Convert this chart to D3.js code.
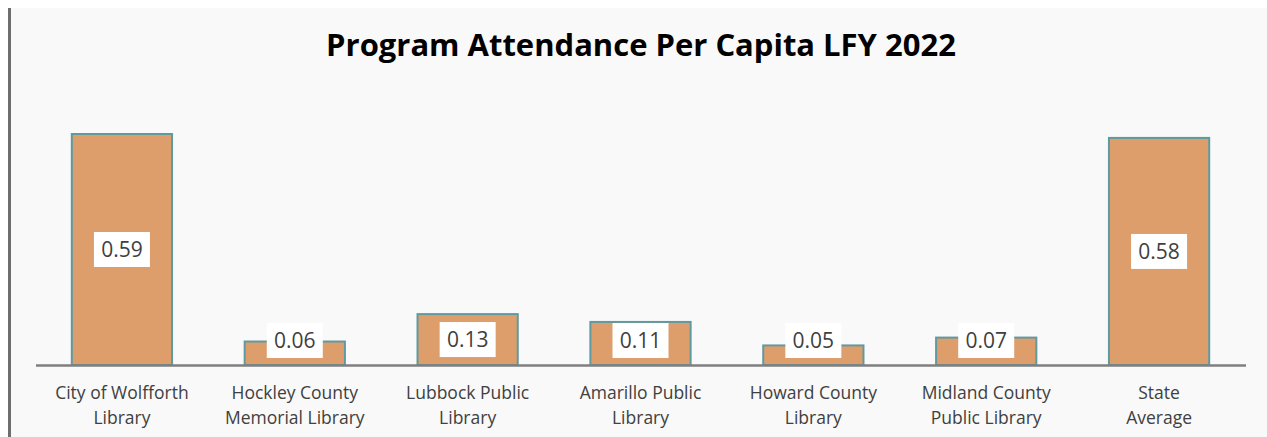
<!DOCTYPE html>
<html><head><meta charset="utf-8">
<script src="https://cdn.jsdelivr.net/npm/d3@7"></script>
<style>html,body{margin:0;padding:0;background:#fff;}svg{display:block;}</style>
</head><body>
<svg id="c" width="1267" height="437"></svg>
<script>
const categories = [
  ["City of Wolfforth", "Library"],
  ["Hockley County", "Memorial Library"],
  ["Lubbock Public", "Library"],
  ["Amarillo Public", "Library"],
  ["Howard County", "Library"],
  ["Midland County", "Public Library"],
  ["State", "Average"]
];
const values = [0.59, 0.06, 0.13, 0.11, 0.05, 0.07, 0.58];
const valueLabels = ["0.59", "0.06", "0.13", "0.11", "0.05", "0.07", "0.58"];
const title = "Program Attendance Per Capita LFY 2022";

const W = 1267, H = 437;
const svg = d3.select("#c");
const font = "'Open Sans', 'Liberation Sans', sans-serif";

svg.append("rect").attr("x", 10).attr("y", 8).attr("width", W - 10).attr("height", H - 8).attr("fill", "#f9f9f9");
svg.append("line").attr("x1", 9.5).attr("x2", 9.5).attr("y1", 8).attr("y2", H)
  .attr("stroke", "#6e6e6e").attr("stroke-width", 3);

const x = d3.scaleBand().domain(d3.range(categories.length)).range([35.5, 1245.5]).paddingInner(0.42).paddingOuter(0.21);
const y = d3.scaleLinear().domain([0, 0.59]).range([365, 134]);

// bars
svg.append("g").selectAll("rect").data(values).join("rect")
  .attr("x", (d, i) => x(i))
  .attr("y", d => y(d))
  .attr("width", x.bandwidth())
  .attr("height", d => y(0) - y(d))
  .attr("fill", "#dd9e6b")
  .attr("stroke", "#5f9aa0")
  .attr("stroke-width", 2);

// baseline axis
const axis = d3.axisBottom(x).tickSize(0).tickFormat("");
const ag = svg.append("g").attr("transform", `translate(0,${y(0)})`).call(axis);
ag.select(".domain").attr("stroke", "#7f7f7f").attr("stroke-width", 2.5);

// category labels
const lab = svg.append("g").selectAll("text").data(categories).join("text")
  .attr("x", (d, i) => x(i) + x.bandwidth() / 2)
  .attr("text-anchor", "middle")
  .attr("font-family", font).attr("font-size", 17.5).attr("fill", "#404040");
lab.each(function(d) {
  const t = d3.select(this);
  d.forEach((line, k) => t.append("tspan").attr("x", t.attr("x")).attr("y", 399 + k * 25).text(line));
});

// value labels
const vg = svg.append("g").selectAll("g").data(values).join("g")
  .attr("transform", (d, i) => {
    const cy = Math.min((y(d) + y(0)) / 2, 340.5);
    return `translate(${x(i) + x.bandwidth() / 2},${cy})`;
  });
vg.append("rect").attr("x", -28).attr("y", -17.5).attr("width", 56).attr("height", 35).attr("fill", "#ffffff");
vg.append("text").attr("text-anchor", "middle").attr("dy", "0.35em")
  .attr("font-family", font).attr("font-size", 21).attr("fill", "#404040")
  .text((d, i) => valueLabels[i]);

// title
const tt = svg.append("text").attr("x", 641).attr("y", 56).attr("text-anchor", "middle")
  .attr("font-family", font).attr("font-weight", "bold").attr("font-size", 28).attr("fill", "#000")
  .text(title);
const tw = tt.node().getComputedTextLength();
tt.attr("font-size", 28 * 630 / tw);
</script>
</body></html>
